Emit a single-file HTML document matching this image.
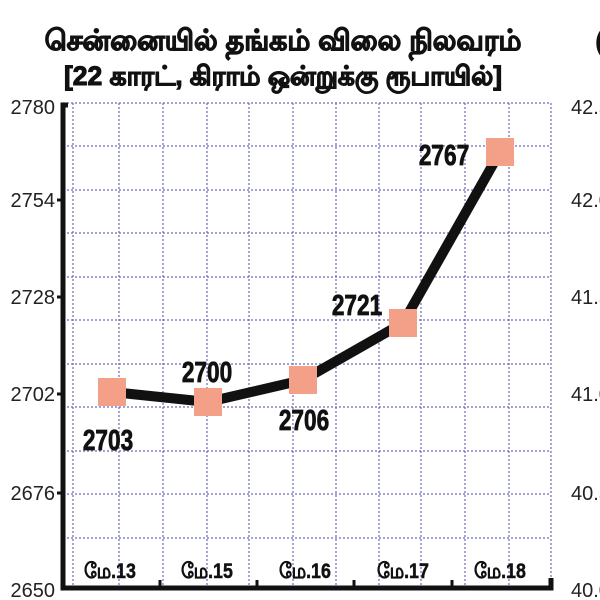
<!DOCTYPE html>
<html><head><meta charset="utf-8"><style>
html,body{margin:0;padding:0;background:#fff;}
svg{display:block;}
</style></head><body>
<svg width="600" height="600" xmlns="http://www.w3.org/2000/svg">
<rect width="600" height="600" fill="#fff"/>
<g font-family="'Liberation Sans','Noto Sans CJK SC',sans-serif" font-weight="bold" fill="#111" stroke="#111" stroke-width="1.1" text-anchor="middle">
<text x="283" y="50" font-size="28.5">சென்னையில் தங்கம் விலை நிலவரம்</text>
<text x="283" y="85" font-size="26.5">[22 காரட், கிராம் ஒன்றுக்கு ரூபாயில்]</text>
<text x="600" y="50" font-size="27">(</text>
</g>
<g stroke="#6a6ab8" stroke-width="1.2" stroke-dasharray="2,2">
<line x1="63" y1="103" x2="551" y2="103"/><line x1="63" y1="146" x2="551" y2="146"/>
<line x1="63" y1="190" x2="551" y2="190"/><line x1="63" y1="233" x2="551" y2="233"/>
<line x1="63" y1="277" x2="551" y2="277"/><line x1="63" y1="320" x2="551" y2="320"/>
<line x1="63" y1="364" x2="551" y2="364"/><line x1="63" y1="407" x2="551" y2="407"/>
<line x1="63" y1="451" x2="551" y2="451"/><line x1="63" y1="494" x2="551" y2="494"/>
<line x1="63" y1="538" x2="551" y2="538"/>
<line x1="73" y1="103" x2="73" y2="585"/><line x1="119" y1="103" x2="119" y2="585"/>
<line x1="163" y1="103" x2="163" y2="585"/><line x1="207" y1="103" x2="207" y2="585"/>
<line x1="249" y1="103" x2="249" y2="585"/><line x1="293" y1="103" x2="293" y2="585"/>
<line x1="336" y1="103" x2="336" y2="585"/><line x1="379" y1="103" x2="379" y2="585"/>
<line x1="421" y1="103" x2="421" y2="585"/><line x1="465" y1="103" x2="465" y2="585"/>
<line x1="509" y1="103" x2="509" y2="585"/><line x1="551" y1="103" x2="551" y2="585"/>
</g>
<g stroke="#111" stroke-width="5" fill="none">
<polyline points="68,105 63,105 63,588 551,588 551,578"/>
</g>
<g stroke="#111" stroke-width="3">
<line x1="57" y1="200" x2="63" y2="200"/><line x1="57" y1="297" x2="63" y2="297"/>
<line x1="57" y1="394" x2="63" y2="394"/><line x1="57" y1="493" x2="63" y2="493"/>
<line x1="160" y1="588" x2="160" y2="580"/><line x1="257" y1="588" x2="257" y2="580"/>
<line x1="354" y1="588" x2="354" y2="580"/><line x1="452" y1="588" x2="452" y2="580"/>
</g>
<g font-family="'Liberation Sans',sans-serif" font-size="20" fill="#222" text-anchor="end">
<text x="55" y="114">2780</text><text x="55" y="207">2754</text><text x="55" y="304">2728</text>
<text x="55" y="401">2702</text><text x="55" y="500">2676</text><text x="55" y="597">2650</text>
</g>
<g font-family="'Liberation Sans',sans-serif" font-size="20" fill="#222">
<text x="571" y="114">42.5</text><text x="571" y="207">42.0</text><text x="571" y="304">41.5</text>
<text x="571" y="401">41.0</text><text x="571" y="500">40.5</text><text x="571" y="597">40.0</text>
</g>
<polyline points="112,392 208,402 303,380 403,323 500,152" fill="none" stroke="#111" stroke-width="10" stroke-linejoin="round"/>
<g fill="#f4a088">
<rect x="98" y="378" width="28" height="28"/><rect x="194" y="388" width="28" height="28"/>
<rect x="289" y="366" width="28" height="28"/><rect x="389" y="309" width="28" height="28"/>
<rect x="486" y="138" width="28" height="28"/>
</g>
<g font-family="'Liberation Sans',sans-serif" font-weight="bold" font-size="29" fill="#111" stroke="#111" stroke-width="0.8" text-anchor="middle">
<text transform="translate(108,450) scale(0.78,1)">2703</text>
<text transform="translate(207,382) scale(0.78,1)">2700</text>
<text transform="translate(304,430) scale(0.78,1)">2706</text>
<text transform="translate(357,315) scale(0.78,1)">2721</text>
<text transform="translate(444,165) scale(0.78,1)">2767</text>
</g>
<g font-family="'Liberation Sans','Noto Sans CJK SC',sans-serif" font-weight="bold" font-size="21" fill="#111" stroke="#111" stroke-width="0.5" text-anchor="middle">
<text transform="translate(110,578) scale(0.85,1)">மே.13</text>
<text transform="translate(207,578) scale(0.85,1)">மே.15</text>
<text transform="translate(305,578) scale(0.85,1)">மே.16</text>
<text transform="translate(403,578) scale(0.85,1)">மே.17</text>
<text transform="translate(500,578) scale(0.85,1)">மே.18</text>
</g>
</svg>
</body></html>
